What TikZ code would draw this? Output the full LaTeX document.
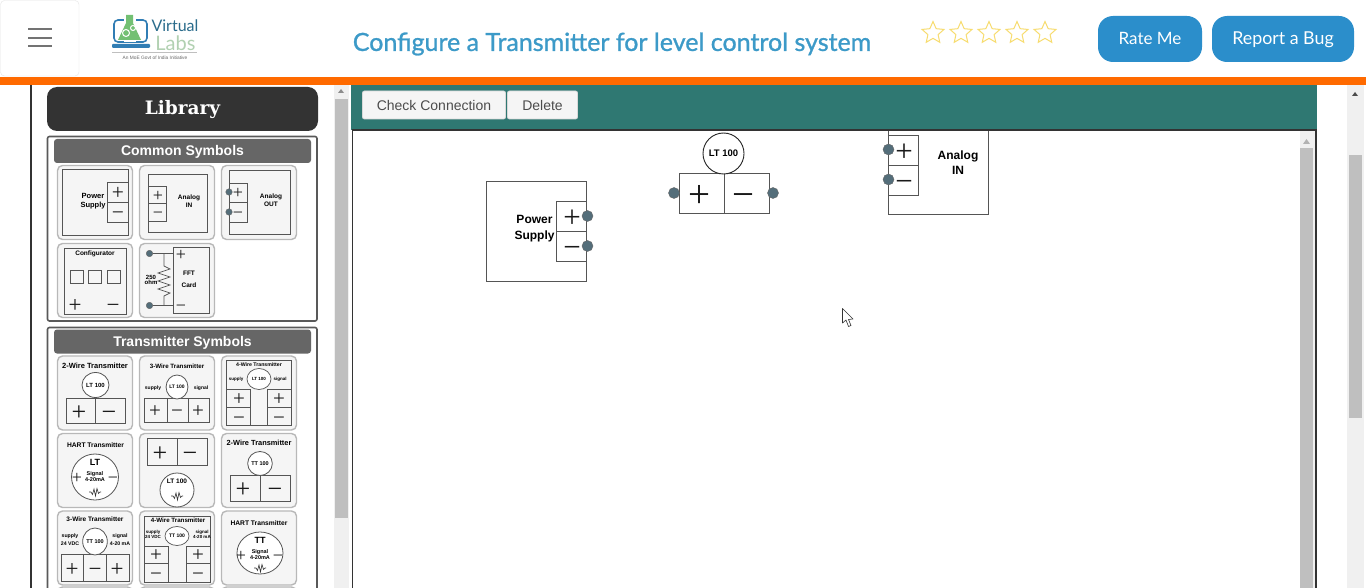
\documentclass[tikz,border=0pt]{standalone}
\usepackage[no-math]{fontspec}
\setmainfont{Liberation Sans}
\newfontfamily\headfont{Lato}
\newfontfamily\titlefont[FakeBold=1]{Lato}
\newfontfamily\libfont{DejaVu Serif}
\newfontfamily\signfont{Liberation Serif}
\newcommand{\mns}{\vphantom{+}−}
\usetikzlibrary{shapes.geometric}

\definecolor{barorange}{HTML}{FF6A00}
\definecolor{panelteal}{HTML}{2F7872}
\definecolor{btnblue}{HTML}{2B8ECB}
\definecolor{titleblue}{HTML}{3C9AC8}
\definecolor{portgrey}{HTML}{546E7A}
\definecolor{wiregrey}{HTML}{555555}
\definecolor{stargold}{HTML}{F7DC6F}

\tikzset{
	wire/.style={draw=wiregrey,line width=0.9pt},
	thinwire/.style={draw=wiregrey,line width=0.7pt},
	tile/.style={draw=black!28,fill=black!4,line width=1.4pt,rounded corners=5pt,minimum width=75pt,minimum height=74pt,inner sep=0pt},
	groupbox/.style={draw=black!65,line width=1.6pt,rounded corners=2pt,fill=white},
	grouphead/.style={fill=black!60,rounded corners=3pt,text=white,inner sep=0pt,minimum width=257pt,minimum height=24pt,text height=10pt,text depth=0pt,font=\fontsize{14}{14}\selectfont\bfseries},
	port/.style={circle,fill=portgrey,draw=black!60,line width=0.4pt,minimum size=#1,inner sep=0pt},
	signmark/.style={inner sep=0pt,text=black!90,yshift=-0.08pt*#1,font=\signfont\fontsize{#1}{#1}\selectfont},
	symtext/.style={inner sep=0pt,align=center,text=black,font=\fontsize{#1}{#1}\selectfont\bfseries},
	gadget/.style={draw=black!15,fill=black!4,line width=0.8pt,rounded corners=2pt,text=black!70,inner sep=0pt,minimum height=28pt,font=\fontsize{14}{14}\selectfont},
	bluebtn/.style={fill=btnblue,rounded corners=15pt,text=white,inner sep=0pt,text height=12pt,text depth=1pt,font=\headfont\fontsize{#1}{#1}\selectfont},
	ratestar/.style={star,star points=5,star point ratio=2.15,draw=stargold,line width=1pt,minimum size=23pt,inner sep=0pt},
	squig/.pic={\draw[black!80,line width=0.6pt] (-6,0) -- (-4,0) -- (-2.5,2.5) -- (-1,-3) -- (0.5,4) -- (2,-3.5) -- (3.5,1.5) -- (5,0) -- (6,0);}
}

\begin{document}
\begin{tikzpicture}[x=1pt,y=-1pt]
	\useasboundingbox (0,0) rectangle (1366,588);
	\clip (0,0) rectangle (1366,588);
	\fill[white] (0,0) rectangle (1366,588);

	% header
	\draw[black!10,rounded corners=4pt] (0.5,0.5) rectangle (79,76);
	\foreach \ly in {29,38,46}
		\draw[black!55,line width=1.6pt] (28,\ly) -- (52,\ly);

	\draw[cyan!70!blue!80!black,line width=1.6pt,rounded corners=4pt] (114,20) rectangle (147,42);
	\fill[cyan!70!blue!80!black,rounded corners=1pt] (112,44) rectangle (150,48);
	\fill[white] (124,18) rectangle (136,42);
	\fill[green!55!black!55!white] (126,15) -- (133,15) -- (133,23) -- (141,40) -- (118,40) -- (126,23) -- cycle;
	\draw[white,line width=1pt] (126,33) circle (3.5) (133,28) circle (2.5);
	\node[inner sep=0pt,text=titleblue!70!black,font=\headfont\fontsize{16}{16}\selectfont] (logoVirtual) at (175,26) {Virtual};
	\node[inner sep=0pt,text=green!40!black!30!white,font=\headfont\fontsize{20}{20}\selectfont] (logoLabs) at (175.5,43) {Labs};
	\draw[black!25,line width=0.5pt] (112,52) -- (197,52);
	\node[inner sep=0pt,text=black!60,font=\fontsize{4.8}{5}\selectfont] (logoTag) at (155,57.5) {An MoE Govt of India Initiative};

	\node[inner sep=0pt,text=titleblue,font=\titlefont\fontsize{25}{25}\selectfont] (pageTitle) at (612,44) {Configure a Transmitter for level control system};

	\foreach \sx [count=\si] in {933,961,989,1017,1045}
		\node[ratestar] (star\si) at (\sx,33) {};

	\node[bluebtn=17,minimum width=104pt,minimum height=46pt] (rateBtn) at (1150,39) {Rate Me};
	\node[bluebtn=17.8,minimum width=142pt,minimum height=46pt] (bugBtn) at (1283,39) {Report a Bug};

	\fill[barorange] (0,77) rectangle (1366,85);

	% page scrollbar and frame
	\fill[black!6] (1347,85) rectangle (1364,588);
	\fill[black!25] (1349,155) rectangle (1362,418);
	\fill[black!70] (1352,96) -- (1358,96) -- (1355,92) -- cycle;
	\draw[black!80,line width=1.6pt] (31,85) -- (31,588);

	% library scrollbar
	\fill[black!6] (334,85) rectangle (349,588);
	\fill[black!25] (335,99) rectangle (348,518);
	\fill[black!45] (338,93) -- (344,93) -- (341,89) -- cycle;

	% work panel
	\fill[panelteal] (351,85) rectangle (1317,130);
	\draw[black!80,line width=1.6pt] (352.5,588) -- (352.5,130) -- (1316,130) -- (1316,588);
	\node[gadget,minimum width=143pt] (checkBtn) at (434,105) {Check Connection};
	\node[gadget,minimum width=70pt] (deleteBtn) at (542.5,105) {Delete};
	\fill[black!6] (1300,131) rectangle (1315,588);
	\fill[black!25] (1300,148) rectangle (1313,588);
	\fill[black!30] (1303,144) -- (1310,144) -- (1306.5,139) -- cycle;

	% library
	\node[fill=black!80,rounded corners=10pt,minimum width=271pt,minimum height=44pt,inner sep=0pt,text=white,text height=12pt,text depth=0pt,font=\libfont\fontsize{18.5}{18.5}\selectfont\bfseries] (libHead) at (182.5,109) {Library};

	\draw[groupbox] (47.5,136.5) rectangle (317,321);
	\node[grouphead] (commonHead) at (182.5,151) {Common Symbols};
	\draw[groupbox] (47.5,327.5) rectangle (317,600);
	\node[grouphead] (transHead) at (182.5,341.5) {Transmitter Symbols};

	\foreach \tx/\ty/\tn in {95/202.5/tilePower,177/202.5/tileIn,259/202.5/tileOut,95/280.5/tileConf,177/280.5/tileFft,
		95/393/tileTwo,177/393/tileThree,259/393/tileFour,95/470.5/tileHart,177/470.5/tileLoop,259/470.5/tileTwoT,
		95/548/tileThreeT,177/548/tileFourT,259/548/tileHartT,95/624/tileNextA,177/624/tileNextB,259/624/tileNextC}
		\node[tile] (\tn) at (\tx,\ty) {};

	% power supply tile
	\draw[wire] (62,169) rectangle (128,235);
	\draw[thinwire] (107,182) rectangle (128,222) (107,202) -- (128,202);
	\node[signmark=21.5] (tpsPlus) at (118,192) {+};
	\node[signmark=21.5] (tpsMinus) at (118,212) {\mns};
	\node[symtext=7.5] (tpsText) at (93,201) {Power\\[2pt]Supply};

	% analog in tile
	\draw[wire] (148,174) rectangle (207,232);
	\draw[thinwire] (148,186) rectangle (166,221) (148,203) -- (166,203);
	\node[signmark=18] (tinPlus) at (158,195) {+};
	\node[signmark=18] (tinMinus) at (158,212) {\mns};
	\node[symtext=6.5] (tinText) at (189,201.5) {Analog\\[1.5pt]IN};

	% analog out tile
	\draw[wire] (229,170) rectangle (290,234);
	\draw[thinwire] (229,183) rectangle (247,222) (229,202) -- (247,202);
	\node[port=6.5pt] (toutA) at (229,192) {};
	\node[port=6.5pt] (toutB) at (229,212) {};
	\node[signmark=18] (toutPlus) at (238,192) {+};
	\node[signmark=18] (toutMinus) at (238,212) {\mns};
	\node[symtext=6.5] (toutText) at (271,200.5) {Analog\\[1.5pt]OUT};

	% configurator tile
	\draw[wire] (64,248) rectangle (126,314);
	\node[symtext=6.5] (confText) at (95,254) {Configurator};
	\foreach \qx in {70,88,107}
		\draw[thinwire] (\qx,270) rectangle ++(13,13);
	\node[signmark=23] (confPlus) at (75,304) {+};
	\node[signmark=23] (confMinus) at (113,304) {\mns};

	% fft card tile
	\draw[wire] (173,247) rectangle (209,313);
	\node[port=6.5pt] (fftA) at (149.5,253.5) {};
	\node[port=6.5pt] (fftB) at (149.5,305.5) {};
	\coordinate (fftAin) at (173,253.5);
	\coordinate (fftBin) at (173,305.5);
	\draw[thinwire] (fftA) -- (fftAin);
	\draw[thinwire] (fftB) -- (fftBin);
	\draw[thinwire] (164,253.5) -- (164,266) -- (170,269) -- (158,273) -- (170,277) -- (158,281) -- (170,285) -- (158,289) -- (170,293) -- (164,296) -- (164,305.5);
	\node[signmark=18] (fftPlus) at (181,254) {+};
	\node[signmark=18] (fftMinus) at (181,305) {\mns};
	\node[symtext=6] (fftOhm) at (151,280) {250\\[-1.5pt]ohm};
	\node[symtext=6.5] (fftText) at (189,279.5) {FFT\\[5pt]Card};

	% 2-wire lt tile
	\node[symtext=7.5] (twoTitle) at (95,366) {2-Wire Transmitter};
	\draw[wire] (66,398) rectangle (125,423) (95,398) -- (95,423);
	\node[draw=wiregrey,ellipse,line width=0.8pt,fill=white,minimum width=27pt,minimum height=25pt,inner sep=0pt,symtext=6] (twoCircle) at (95.5,385) {LT 100};
	\node[signmark=26] (twoPlus) at (79,411) {+};
	\node[signmark=26] (twoMinus) at (109,411) {\mns};

	% 3-wire lt tile
	\node[symtext=6.2] (threeTitle) at (177,366) {3-Wire Transmitter};
	\node[symtext=5] (threeSupply) at (153,388) {supply};
	\node[symtext=5] (threeSignal) at (201,388) {signal};
	\draw[wire] (144,398) rectangle (209,422) (167,398) -- (167,422) (188,398) -- (188,422);
	\node[draw=wiregrey,ellipse,line width=0.8pt,fill=white,minimum width=20pt,minimum height=24pt,inner sep=0pt,symtext=5] (threeCircle) at (177,387) {LT 100};
	\node[signmark=21] (threePlusA) at (155,410) {+};
	\node[signmark=21] (threeMinus) at (177,410) {\mns};
	\node[signmark=21] (threePlusB) at (198,410) {+};

	% 4-wire lt tile
	\draw[wire] (226,360) rectangle (291,425);
	\node[symtext=5.2] (fourTitle) at (259,364.5) {4-Wire Transmitter};
	\node[symtext=4.5] (fourSupply) at (236,379) {supply};
	\node[symtext=4.5] (fourSignal) at (280,379) {signal};
	\node[draw=wiregrey,ellipse,line width=0.7pt,fill=white,minimum width=24pt,minimum height=21pt,inner sep=0pt,symtext=4.5] (fourCircle) at (259,379) {LT 100};
	\draw[thinwire] (226,389) rectangle (250,425) (226,407) -- (250,407);
	\draw[thinwire] (267,389) rectangle (291,425) (267,407) -- (291,407);
	\node[signmark=21] (fourPlusA) at (239,398) {+};
	\node[signmark=21] (fourMinusA) at (239,417) {\mns};
	\node[signmark=21] (fourPlusB) at (279,398) {+};
	\node[signmark=21] (fourMinusB) at (279,417) {\mns};

	% hart lt tile
	\node[symtext=6.7] (hartTitle) at (95.5,445) {HART Transmitter};
	\node[draw=wiregrey,ellipse,line width=0.8pt,fill=white,minimum width=47pt,minimum height=46pt,inner sep=0pt] (hartCircle) at (95,477) {};
	\node[symtext=9] (hartTag) at (95,462) {LT};
	\node[symtext=5.5] (hartSignal) at (95,477) {Signal\\[0.5pt]4-20mA};
	\node[signmark=18] (hartPlus) at (77,477) {+};
	\node[signmark=18] (hartMinus) at (113,477) {\mns};
	\pic (hartWave) at (95,492) {squig};

	% loop powered lt tile
	\draw[wire] (147,438) rectangle (207,465) (177,438) -- (177,465);
	\node[signmark=26] (loopPlus) at (160,452) {+};
	\node[signmark=26] (loopMinus) at (190,452) {\mns};
	\node[draw=wiregrey,ellipse,line width=0.8pt,fill=white,minimum width=34pt,minimum height=34pt,inner sep=0pt] (loopCircle) at (177,490) {};
	\node[symtext=6.5] (loopTag) at (177,481) {LT 100};
	\pic (loopWave) at (177,496) {squig};

	% 2-wire tt tile
	\node[symtext=7.4] (twoTTitle) at (259,443) {2-Wire Transmitter};
	\draw[wire] (230,475) rectangle (290,501) (260,475) -- (260,501);
	\node[draw=wiregrey,ellipse,line width=0.8pt,fill=white,minimum width=24pt,minimum height=24pt,inner sep=0pt,symtext=5.5] (twoTCircle) at (260,463.5) {TT 100};
	\node[signmark=26] (twoTPlus) at (243,488) {+};
	\node[signmark=26] (twoTMinus) at (275,488) {\mns};

	% 3-wire tt tile
	\node[symtext=6.5] (threeTTitle) at (95,519) {3-Wire Transmitter};
	\node[symtext=5.2] (threeTSupply) at (70,539.5) {supply\\[3pt]24 VDC};
	\node[symtext=5.2] (threeTSignal) at (120,539.5) {signal\\[3pt]4-20 mA};
	\draw[wire] (61,554) rectangle (129,581) (83,554) -- (83,581) (106,554) -- (106,581);
	\node[draw=wiregrey,ellipse,line width=0.8pt,fill=white,minimum width=21pt,minimum height=27pt,inner sep=0pt,symtext=5.5] (threeTCircle) at (95,541.5) {TT 100};
	\node[signmark=23] (threeTPlusA) at (72,568) {+};
	\node[signmark=23] (threeTMinus) at (95,568) {\mns};
	\node[signmark=23] (threeTPlusB) at (117,568) {+};

	% 4-wire tt tile
	\draw[wire] (144,516) rectangle (210,582);
	\node[symtext=6.2] (fourTTitle) at (178,520.5) {4-Wire Transmitter};
	\node[symtext=4.5] (fourTSupply) at (153,534.5) {supply\\[0.5pt]24 VDC};
	\node[symtext=4.5] (fourTSignal) at (202,534.5) {signal\\[0.5pt]4-20 mA};
	\node[draw=wiregrey,ellipse,line width=0.7pt,fill=white,minimum width=24pt,minimum height=19pt,inner sep=0pt,symtext=5] (fourTCircle) at (177,536) {TT 100};
	\draw[thinwire] (144,546) rectangle (168,582) (144,563) -- (168,563);
	\draw[thinwire] (186,546) rectangle (210,582) (186,563) -- (210,563);
	\node[signmark=21] (fourTPlusA) at (156,554) {+};
	\node[signmark=21] (fourTMinusA) at (156,573) {\mns};
	\node[signmark=21] (fourTPlusB) at (198,554) {+};
	\node[signmark=21] (fourTMinusB) at (198,573) {\mns};

	% hart tt tile
	\node[symtext=6.7] (hartTTitle) at (259,523) {HART Transmitter};
	\node[draw=wiregrey,ellipse,line width=0.8pt,fill=white,minimum width=46pt,minimum height=42pt,inner sep=0pt] (hartTCircle) at (260,553) {};
	\node[symtext=9] (hartTTag) at (260,540) {TT};
	\node[symtext=5.5] (hartTSignal) at (260,554.5) {Signal\\[0.5pt]4-20mA};
	\node[signmark=18] (hartTPlus) at (241,555) {+};
	\node[signmark=18] (hartTMinus) at (278,555) {\mns};
	\pic (hartTWave) at (260,568) {squig};

	% power supply on the canvas
	\draw[wire] (486,181) rectangle (586,281);
	\draw[wire] (556,201) rectangle (586,261) (556,231) -- (586,231);
	\node[port=11pt] (psPlusPort) at (587.5,216) {};
	\node[port=11pt] (psMinusPort) at (587.5,246) {};
	\node[signmark=31] (psPlus) at (572,216) {+};
	\node[signmark=31] (psMinus) at (572,246) {\mns};
	\node[symtext=12] (psText) at (534.5,229) {Power\\[4pt]Supply};

	% lt 100 on the canvas
	\draw[wire] (679,173) rectangle (769,213) (724,173) -- (724,213);
	\node[draw=black!85,circle,line width=0.9pt,fill=white,minimum size=41pt,inner sep=0pt,symtext=9.5] (ltCircle) at (723.5,153.5) {LT 100};
	\node[port=11pt] (ltPlusPort) at (674,193) {};
	\node[port=11pt] (ltMinusPort) at (773,193) {};
	\node[signmark=39] (ltPlus) at (699,193) {+};
	\node[signmark=39] (ltMinus) at (743,193) {\mns};

	% analog in on the canvas
	\draw[wire] (888,131) -- (888,214) -- (988,214) -- (988,131);
	\draw[wire] (888,135) rectangle (918,195) (888,165) -- (918,165);
	\node[port=11pt] (inPlusPort) at (888.5,149.5) {};
	\node[port=11pt] (inMinusPort) at (888.5,179.5) {};
	\node[signmark=31] (inPlus) at (904,150) {+};
	\node[signmark=31] (inMinus) at (904,180) {\mns};
	\node[symtext=12] (inText) at (958,162.5) {Analog\\[3pt]IN};

	% mouse pointer
	\draw[fill=white,draw=black!80,line width=0.6pt,line join=round] (842.5,308.5) -- (842.5,323) -- (846,320) -- (848.5,326.5) -- (851,325.5) -- (848.5,319.5) -- (853,319) -- cycle;
\end{tikzpicture}
\end{document}
